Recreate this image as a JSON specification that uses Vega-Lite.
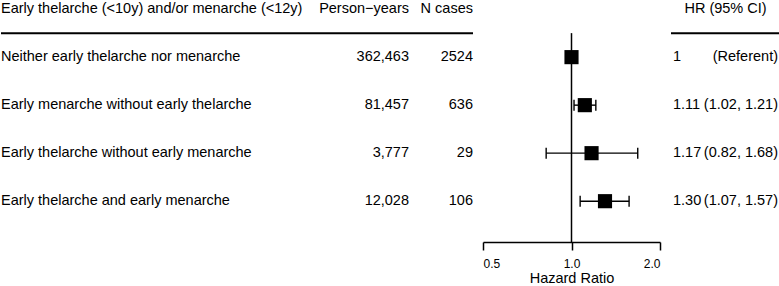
{
  "$schema": "https://vega.github.io/schema/vega-lite/v6.json",
  "padding": 0,
  "background": "white",
  "spacing": 0,
  "bounds": "flush",
  "config": {
    "view": {"stroke": null},
    "font": "Liberation Sans",
    "text": {"fontSize": 14.5, "fill": "black", "baseline": "middle", "font": "Liberation Sans", "fontWeight": "normal"}
  },
  "resolve": {"scale": {"x": "independent", "y": "shared"}},
  "datasets": {
    "rows": [
      {"row": 1, "group": "Neither early thelarche nor menarche", "py": 362463, "n": 2524, "hr": 1.0, "lo": null, "hi": null, "est": "1", "ci": "(Referent)"},
      {"row": 2, "group": "Early menarche without early thelarche", "py": 81457, "n": 636, "hr": 1.11, "lo": 1.02, "hi": 1.21, "est": "1.11", "ci": "(1.02, 1.21)"},
      {"row": 3, "group": "Early thelarche without early menarche", "py": 3777, "n": 29, "hr": 1.17, "lo": 0.82, "hi": 1.68, "est": "1.17", "ci": "(0.82, 1.68)"},
      {"row": 4, "group": "Early thelarche and early menarche", "py": 12028, "n": 106, "hr": 1.30, "lo": 1.07, "hi": 1.57, "est": "1.30", "ci": "(1.07, 1.57)"}
    ],
    "headers": [
      {"label": "Early thelarche (<10y) and/or menarche (<12y)", "py": "Person−years", "n": "N cases", "hr": "HR (95% CI)"}
    ]
  },
  "hconcat": [
    {
      "width": 320, "height": 242,
      "layer": [
        {"data": {"name": "rows"},
         "mark": {"type": "text", "align": "left"},
         "encoding": {
           "x": {"datum": 0, "type": "quantitative", "scale": {"domain": [0, 1]}, "axis": null},
           "y": {"field": "row", "type": "quantitative", "scale": {"domain": [-0.19, 4.85], "reverse": true, "nice": false, "zero": false}, "axis": null},
           "text": {"field": "group"}}},
        {"data": {"name": "headers"},
         "mark": {"type": "text", "align": "left"},
         "encoding": {
           "x": {"datum": 0, "type": "quantitative"},
           "y": {"datum": 0, "type": "quantitative"},
           "text": {"field": "label"}}},
        {"data": {"name": "headers"},
         "mark": {"type": "rule", "strokeWidth": 2, "color": "black"},
         "encoding": {"y": {"datum": 0.5, "type": "quantitative"}}}
      ]
    },
    {
      "width": 88, "height": 242,
      "layer": [
        {"data": {"name": "rows"},
         "mark": {"type": "text", "align": "right"},
         "encoding": {
           "x": {"datum": 1, "type": "quantitative", "scale": {"domain": [0, 1]}, "axis": null},
           "y": {"field": "row", "type": "quantitative", "axis": null},
           "text": {"field": "py", "type": "quantitative", "format": ","}}},
        {"data": {"name": "headers"},
         "mark": {"type": "text", "align": "right"},
         "encoding": {
           "x": {"datum": 1, "type": "quantitative"},
           "y": {"datum": 0, "type": "quantitative"},
           "text": {"field": "py"}}},
        {"data": {"name": "headers"},
         "mark": {"type": "rule", "strokeWidth": 2, "color": "black"},
         "encoding": {"y": {"datum": 0.5, "type": "quantitative"}}}
      ]
    },
    {
      "width": 64, "height": 242,
      "layer": [
        {"data": {"name": "rows"},
         "mark": {"type": "text", "align": "right"},
         "encoding": {
           "x": {"datum": 1, "type": "quantitative", "scale": {"domain": [0, 1]}, "axis": null},
           "y": {"field": "row", "type": "quantitative", "axis": null},
           "text": {"field": "n", "type": "quantitative", "format": "d"}}},
        {"data": {"name": "headers"},
         "mark": {"type": "text", "align": "right"},
         "encoding": {
           "x": {"datum": 1, "type": "quantitative"},
           "y": {"datum": 0, "type": "quantitative"},
           "text": {"field": "n"}}},
        {"data": {"name": "headers"},
         "mark": {"type": "rule", "strokeWidth": 2, "color": "black"},
         "encoding": {"y": {"datum": 0.5, "type": "quantitative"}}}
      ]
    },
    {
      "width": 198, "height": 242,
      "encoding": {
        "x": {"type": "quantitative",
              "scale": {"type": "log", "domain": [0.5, 2], "range": [10, 187], "nice": false},
              "axis": {"values": [0.5, 1, 2], "format": ".1f", "grid": false, "title": "Hazard Ratio",
                       "domainColor": "black", "domainWidth": 1.5, "tickColor": "black", "tickWidth": 1.5, "tickSize": 8,
                       "labelColor": "black", "labelFontSize": 12, "labelPadding": 8, "labelFont": "Liberation Sans",
                       "titleColor": "black", "titleFontSize": 14.5, "titleFontWeight": "normal", "titlePadding": 2, "titleFont": "Liberation Sans"}}
      },
      "layer": [
        {"data": {"name": "headers"},
         "mark": {"type": "rule", "strokeWidth": 1.5, "color": "black"},
         "encoding": {
           "x": {"datum": 1, "type": "quantitative"},
           "y": {"datum": 0.5, "type": "quantitative", "axis": null},
           "y2": {"datum": 4.85}}},
        {"data": {"name": "rows"},
         "transform": [{"filter": "datum.lo != null"}],
         "mark": {"type": "rule", "color": "black", "strokeWidth": 1.4},
         "encoding": {
           "x": {"field": "lo", "type": "quantitative"},
           "x2": {"field": "hi"},
           "y": {"field": "row", "type": "quantitative", "axis": null}}},
        {"data": {"name": "rows"},
         "transform": [{"filter": "datum.lo != null"}],
         "mark": {"type": "tick", "orient": "vertical", "color": "black", "size": 11, "thickness": 1.4, "opacity": 1},
         "encoding": {
           "x": {"field": "lo", "type": "quantitative"},
           "y": {"field": "row", "type": "quantitative", "axis": null}}},
        {"data": {"name": "rows"},
         "transform": [{"filter": "datum.lo != null"}],
         "mark": {"type": "tick", "orient": "vertical", "color": "black", "size": 11, "thickness": 1.4, "opacity": 1},
         "encoding": {
           "x": {"field": "hi", "type": "quantitative"},
           "y": {"field": "row", "type": "quantitative", "axis": null}}},
        {"data": {"name": "rows"},
         "mark": {"type": "point", "shape": "square", "filled": true, "size": 200, "color": "black", "opacity": 1},
         "encoding": {
           "x": {"field": "hr", "type": "quantitative"},
           "y": {"field": "row", "type": "quantitative", "axis": null}}}
      ]
    },
    {
      "width": 109, "height": 242,
      "layer": [
        {"data": {"name": "rows"},
         "mark": {"type": "text", "align": "left", "dx": 2},
         "encoding": {
           "x": {"datum": 0, "type": "quantitative", "scale": {"domain": [0, 1]}, "axis": null},
           "y": {"field": "row", "type": "quantitative", "axis": null},
           "text": {"field": "est"}}},
        {"data": {"name": "rows"},
         "mark": {"type": "text", "align": "right", "dx": -2},
         "encoding": {
           "x": {"datum": 1, "type": "quantitative"},
           "y": {"field": "row", "type": "quantitative"},
           "text": {"field": "ci"}}},
        {"data": {"name": "headers"},
         "mark": {"type": "text", "align": "center"},
         "encoding": {
           "x": {"datum": 0.5, "type": "quantitative"},
           "y": {"datum": 0, "type": "quantitative"},
           "text": {"field": "hr"}}},
        {"data": {"name": "headers"},
         "mark": {"type": "rule", "strokeWidth": 2, "color": "black"},
         "encoding": {"y": {"datum": 0.5, "type": "quantitative"}}}
      ]
    }
  ]
}
